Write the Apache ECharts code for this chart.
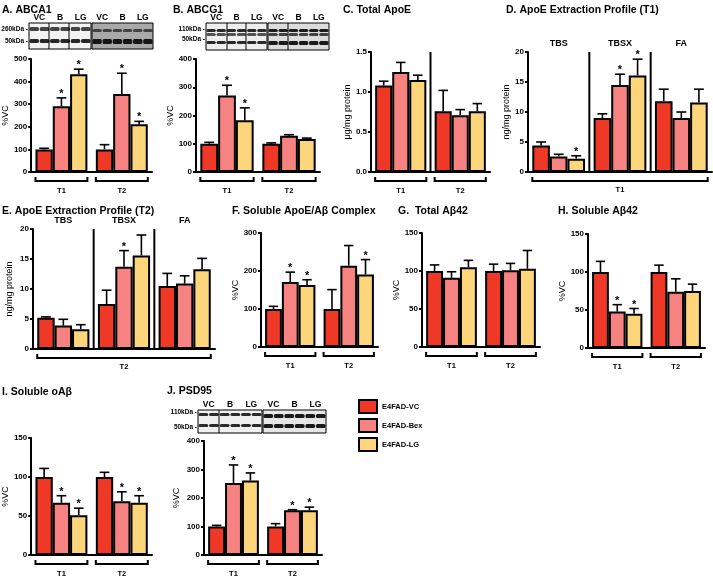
<!DOCTYPE html>
<html lang="en">
<head>
<meta charset="UTF-8">
<title>E4FAD panels</title>
<script src="https://cdn.jsdelivr.net/npm/echarts@6/dist/echarts.min.js"></script>
<style>
  html, body { margin: 0; padding: 0; background: #fff; }
  #chart { width: 713px; height: 578px; }
</style>
</head>
<body>
<div id="chart"></div>
<script>
const groups = ['E4FAD-VC', 'E4FAD-Bex', 'E4FAD-LG'];
const colors = ['#f03826', '#f78282', '#fdd57b'];
const timeCats = ['T1', 'T2'];
const fracCats = ['TBS', 'TBSX', 'FA'];

// rows: VC, Bex, LG ; columns follow the panel's categories
// mean = bar height, err = top of the error bar, star = significance mark
const abca1Mean = [[100, 100], [291, 345], [432, 211]];
const abca1Err  = [[105, 121], [328, 437], [455, 224]];
const abca1Star = [[0, 0], [1, 1], [1, 1]];
const abca1Ticks = [0, 500, 100];

const abcg1Mean = [[100, 100], [271, 128], [183, 117]];
const abcg1Err  = [[105, 103], [307, 132], [227, 120]];
const abcg1Star = [[0, 0], [1, 0], [1, 0]];
const abcg1Ticks = [0, 400, 100];

const apoeMean = [[1.08, 0.76], [1.25, 0.71], [1.15, 0.76]];
const apoeErr  = [[1.135, 1.02], [1.37, 0.78], [1.21, 0.855]];
const apoeStar = [[0, 0], [0, 0], [0, 0]];
const apoeTicks = [0, 1.5, 0.5];

const extT1Mean = [[4.4, 9.0, 11.8], [2.6, 14.5, 9.0], [2.2, 16.1, 11.6]];
const extT1Err  = [[5.0, 9.7, 13.8], [2.95, 16.3, 10.0], [2.7, 18.8, 13.8]];
const extT1Star = [[0, 0, 0], [0, 1, 0], [1, 1, 0]];
const extT1Ticks = [0, 20, 5];

const extT2Mean = [[5.2, 7.5, 10.5], [3.9, 13.7, 10.9], [3.3, 15.6, 13.3]];
const extT2Err  = [[5.35, 9.8, 12.6], [4.95, 16.4, 12.2], [4.05, 19.0, 15.1]];
const extT2Star = [[0, 0, 0], [0, 1, 0], [0, 0, 0]];
const extT2Ticks = [0, 20, 5];

const complexMean = [[100, 100], [171, 214], [163, 191]];
const complexErr  = [[107, 151], [197, 267], [177, 230]];
const complexStar = [[0, 0], [1, 0], [1, 1]];
const complexTicks = [0, 300, 100];

const totAbMean = [[100, 100], [91, 101], [105, 103]];
const totAbErr  = [[108, 109], [99, 110], [114, 127]];
const totAbStar = [[0, 0], [0, 0], [0, 0]];
const totAbTicks = [0, 150, 50];

const solAbMean = [[100, 100], [48, 74], [45, 75]];
const solAbErr  = [[114, 109], [57, 91], [52, 84]];
const solAbStar = [[0, 0], [1, 0], [1, 0]];
const solAbTicks = [0, 150, 50];

const oAbMean = [[100, 100], [67, 69], [51, 67]];
const oAbErr  = [[111, 106], [76, 81], [60, 76]];
const oAbStar = [[0, 0], [1, 1], [1, 1]];
const oAbTicks = [0, 150, 50];

const psd95Mean = [[100, 100], [253, 157], [261, 157]];
const psd95Err  = [[104, 110], [316, 159], [288, 168]];
const psd95Star = [[0, 0], [1, 1], [1, 1]];
const psd95Ticks = [0, 400, 100];

const FONT = '"Liberation Sans", Arial, Helvetica, sans-serif';
const GAP = 0.14;

// box = [left, top, width, height] of the plot area
const panels = [
  { title: 'A. ABCA1', tx: 2, ty: 10, box: [30, 59, 122, 113], cats: timeCats, mean: abca1Mean, err: abca1Err, star: abca1Star, ticks: abca1Ticks, yName: '%VC', gap: 16 },
  { title: 'B. ABCG1', tx: 173, ty: 10, box: [196, 59, 124, 113], cats: timeCats, mean: abcg1Mean, err: abcg1Err, star: abcg1Star, ticks: abcg1Ticks, yName: '%VC', gap: 15 },
  { title: 'C. Total ApoE', tx: 343, ty: 10, box: [371, 52, 119, 120], cats: timeCats, mean: apoeMean, err: apoeErr, star: apoeStar, ticks: apoeTicks, yName: 'μg/mg protein', gap: 14, sep: true, dec: 1 },
  { title: 'D. ApoE Extraction Profile (T1)', tx: 506, ty: 10, box: [528, 52, 184, 120], cats: fracCats, mean: extT1Mean, err: extT1Err, star: extT1Star, ticks: extT1Ticks, yName: 'ng/mg protein', gap: 13, sep: true, span: 'T1' },
  { title: 'E. ApoE Extraction Profile (T2)', tx: 2, ty: 211, box: [33, 229, 182, 120], cats: fracCats, mean: extT2Mean, err: extT2Err, star: extT2Star, ticks: extT2Ticks, yName: 'ng/mg protein', gap: 19, sep: true, span: 'T2' },
  { title: 'F. Soluble ApoE/Aβ Complex', tx: 232, ty: 211, box: [261, 233, 117, 114], cats: timeCats, mean: complexMean, err: complexErr, star: complexStar, ticks: complexTicks, yName: '%VC', gap: 20 },
  { title: 'G.  Total Aβ42', tx: 398, ty: 211, box: [422, 233, 118, 114], cats: timeCats, mean: totAbMean, err: totAbErr, star: totAbStar, ticks: totAbTicks, yName: '%VC', gap: 14 },
  { title: 'H. Soluble Aβ42', tx: 558, ty: 211, box: [588, 234, 117, 114], cats: timeCats, mean: solAbMean, err: solAbErr, star: solAbStar, ticks: solAbTicks, yName: '%VC', gap: 20 },
  { title: 'I. Soluble oAβ', tx: 2, ty: 392, box: [29, 438, 123, 117], cats: timeCats, mean: oAbMean, err: oAbErr, star: oAbStar, ticks: oAbTicks, yName: '%VC', gap: 14 },
  { title: 'J. PSD95', tx: 167, ty: 391, box: [204, 441, 118, 114], cats: timeCats, mean: psd95Mean, err: psd95Err, star: psd95Star, ticks: psd95Ticks, yName: '%VC', gap: 23 }
];

function renderErr(params, api) {
  const c = api.value(0), k = api.value(1), m = api.value(2), e = api.value(3), s = api.value(4);
  const band = api.size([1, 0])[0];
  const bw = band * (1 - GAP) / 3;
  const cx = api.coord([c, 0])[0] + (k - 1) * bw;
  const yM = api.coord([c, m])[1];
  const yE = api.coord([c, e])[1];
  const half = bw * 0.28;
  const kids = [
    { type: 'line', shape: { x1: cx, y1: yM, x2: cx, y2: yE }, style: { stroke: '#000', lineWidth: 1.6 } },
    { type: 'line', shape: { x1: cx - half, y1: yE, x2: cx + half, y2: yE }, style: { stroke: '#000', lineWidth: 1.6 } }
  ];
  if (s) kids.push({ type: 'text', style: { text: '*', x: cx, y: yE - 4, font: 'bold 11px ' + FONT, fill: '#000', align: 'center', verticalAlign: 'middle' } });
  return { type: 'group', children: kids };
}

function renderDecor(p) {
  return function (params, api) {
    const i = api.value(0);
    const band = api.size([1, 0])[0];
    const half = band * (1 - GAP) / 2;
    const pt = api.coord([i, 0]);
    const yTop = api.coord([i, p.ticks[1]])[1];
    const by = pt[1] + 9;
    const kids = [];
    const bracket = (x1, x2) => kids.push({ type: 'polyline', shape: { points: [[x1, by - 4], [x1, by], [x2, by], [x2, by - 4]] }, style: { stroke: '#000', lineWidth: 2, fill: 'none' } });
    if (!p.span) {
      bracket(pt[0] - half, pt[0] + half);
    } else if (i === 0) {
      const n = p.cats.length;
      const x2 = pt[0] + (n - 1) * band + half;
      bracket(pt[0] - half, x2);
      kids.push({ type: 'text', style: { text: p.span, x: (pt[0] - half + x2) / 2, y: by + 9, font: 'bold 7.5px ' + FONT, fill: '#000', align: 'center', verticalAlign: 'middle' } });
    }
    if (p.sep && i > 0) {
      const sx = pt[0] - band / 2;
      kids.push({ type: 'line', shape: { x1: sx, y1: yTop, x2: sx, y2: pt[1] }, style: { stroke: '#000', lineWidth: 2 } });
    }
    return { type: 'group', children: kids };
  };
}

function blot(x, y, w, h, fill, seps, bands, ink) {
  const els = [{ type: 'rect', shape: { x: x, y: y, width: w, height: h }, style: { fill: fill, stroke: '#000', lineWidth: 1 } }];
  const lw = w / 6;
  for (let i = 0; i < 6; i++) {
    bands.forEach(b => els.push({ type: 'rect', shape: { x: x + i * lw + lw * 0.04, y: y + b[0], width: lw * 0.92, height: b[1], r: 1.5 }, style: { fill: ink, opacity: b[2] || 1 } }));
  }
  seps.forEach(sx => els.push({ type: 'line', shape: { x1: x + sx, y1: y, x2: x + sx, y2: y + h }, style: { stroke: '#000', lineWidth: 1 } }));
  ['VC', 'B', 'LG'].forEach((t, j) => els.push({ type: 'text', style: { text: t, x: x + w * (2 * j + 1) / 6, y: y - 5, font: 'bold 8.5px ' + FONT, fill: '#000', align: 'center', verticalAlign: 'middle' } }));
  return els;
}

function kda(xr, y, t) {
  return { type: 'text', style: { text: t + ' -', x: xr, y: y, font: 'bold 6.5px ' + FONT, fill: '#000', align: 'right', verticalAlign: 'middle' } };
}

const option = {
  animation: false,
  backgroundColor: '#fff',
  grid: [], xAxis: [], yAxis: [], series: [], graphic: [],
  legend: {
    data: groups, orient: 'vertical', left: 358, top: 399, padding: 0,
    itemWidth: 18, itemHeight: 13, itemGap: 4, icon: 'rect', selectedMode: false,
    itemStyle: { borderColor: '#000', borderWidth: 2 },
    textStyle: { fontSize: 7.5, fontWeight: 'bold', color: '#000', fontFamily: FONT }
  }
};

panels.forEach((p, gi) => {
  option.grid.push({ left: p.box[0], top: p.box[1], width: p.box[2], height: p.box[3] });
  const xi = option.xAxis.length;
  option.xAxis.push({
    gridIndex: gi, type: 'category', data: p.cats,
    axisLine: { lineStyle: { color: '#000', width: 2 } }, axisTick: { show: false },
    axisLabel: p.span ? { show: false } : { margin: 15, fontSize: 7.5, fontWeight: 'bold', color: '#000', fontFamily: FONT }
  });
  if (p.span) {
    option.xAxis.push({
      gridIndex: gi, type: 'category', position: 'top', data: p.cats,
      axisLine: { show: false }, axisTick: { show: false },
      axisLabel: { margin: 4, fontSize: 9, fontWeight: 'bold', color: '#000', fontFamily: FONT }
    });
  }
  option.yAxis.push({
    gridIndex: gi, type: 'value', min: p.ticks[0], max: p.ticks[1], interval: p.ticks[2],
    name: p.yName, nameLocation: 'middle', nameGap: p.gap,
    nameTextStyle: { fontSize: 9, color: '#000', fontFamily: FONT },
    axisLine: { show: true, lineStyle: { color: '#000', width: 2 } },
    axisTick: { show: true, length: 3, lineStyle: { color: '#000', width: 2 } },
    axisLabel: { margin: 4, fontSize: 8, fontWeight: 'bold', color: '#000', fontFamily: FONT,
      formatter: v => p.dec ? v.toFixed(p.dec) : String(v) },
    splitLine: { show: false }
  });
  groups.forEach((g, k) => option.series.push({
    type: 'bar', name: g, xAxisIndex: xi, yAxisIndex: gi, data: p.mean[k],
    barGap: '0%', barCategoryGap: (GAP * 100) + '%',
    itemStyle: { color: colors[k], borderColor: '#000', borderWidth: 2 },
    emphasis: { disabled: true }, silent: true
  }));
  const errData = [];
  p.mean.forEach((row, k) => row.forEach((m, c) => errData.push([c, k, m, p.err[k][c], p.star[k][c]])));
  option.series.push({ type: 'custom', name: 'err' + gi, xAxisIndex: xi, yAxisIndex: gi, data: errData, encode: { x: 0, y: 3 }, renderItem: renderErr, z: 5, silent: true });
  option.series.push({ type: 'custom', name: 'decor' + gi, xAxisIndex: xi, yAxisIndex: gi, data: p.cats.map((c, i) => [i, 0]), encode: { x: 0, y: 1 }, renderItem: renderDecor(p), z: 4, silent: true });
  option.graphic.push({ type: 'text', style: { text: p.title, x: p.tx, y: p.ty, font: 'bold 10.5px ' + FONT, fill: '#000', verticalAlign: 'middle' } });
});

// western blot strips above A, B and J
option.graphic.push(
  ...blot(29, 23, 62, 26, '#f2f2f2', [20, 40], [[4, 4, 0.85], [16, 4]], '#262626'),
  ...blot(92, 23, 61, 26, '#a9a9a9', [], [[6, 3, 0.7], [16, 5]], '#151515'),
  kda(28, 29, '260kDa'), kda(28, 41, '50kDa'),
  ...blot(206, 23, 61, 27, '#eeeeee', [21, 40], [[6, 3], [10, 3, 0.8], [18, 3]], '#2a2a2a'),
  ...blot(268, 23, 61, 27, '#dcdcdc', [20], [[6, 3], [10, 3, 0.8], [18, 4]], '#1a1a1a'),
  kda(205, 29, '110kDa'), kda(205, 39, '50kDa'),
  ...blot(198, 410, 64, 23, '#efefef', [21], [[3, 3], [14, 3]], '#2a2a2a'),
  ...blot(263, 410, 63, 23, '#e6e6e6', [], [[4, 4], [14, 4]], '#1a1a1a'),
  kda(197, 412, '110kDa'), kda(197, 427, '50kDa')
);

const chart = echarts.init(document.getElementById('chart'));
chart.setOption(option);
</script>
</body>
</html>
